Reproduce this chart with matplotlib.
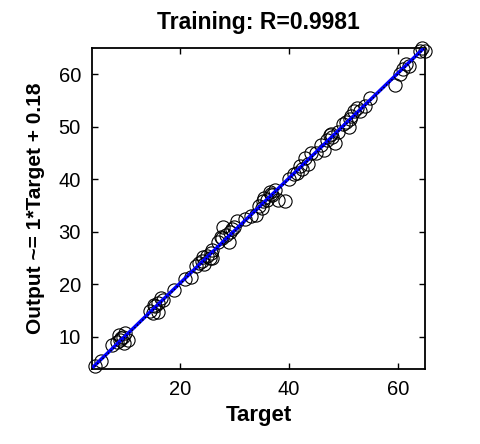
import matplotlib
matplotlib.use("Agg")
import matplotlib.pyplot as plt
import numpy as np

plt.rcParams['font.family'] = ['Liberation Sans', 'DejaVu Sans']

target = [4.5, 5.5, 7.5, 8.8, 9.0, 9.5, 9.8, 10.0, 10.5, 8.5, 9.3,
          14.5, 15.0, 15.5, 16.0, 16.5, 16.0, 17.0, 15.2,
          19.0, 21.0, 22.0,
          23.0, 23.5, 24.0, 24.5, 25.0, 25.5, 26.0, 26.0, 24.2, 25.8,
          27.0, 27.5, 28.0, 28.5, 29.0, 29.5, 30.0, 30.5, 27.8, 29.2,
          32.0, 33.0, 34.0, 34.5, 35.0, 35.5, 36.0, 36.5, 37.0, 37.5, 38.0, 39.3,
          35.2, 36.8,
          40.0, 41.0, 42.0, 42.5, 43.0, 43.5, 44.0, 41.5,
          45.0, 46.0, 46.5, 47.0, 47.5, 48.0, 48.5, 49.0, 47.8,
          50.0, 50.5, 51.0, 51.5, 52.0, 52.5, 53.0, 54.0, 55.0, 51.2,
          59.5, 60.5, 61.0, 61.5, 62.0,
          64.0, 64.5, 65.0]
output = [4.5, 5.5, 8.5, 10.3, 9.5, 10.0, 8.8, 10.8, 9.5, 9.0, 9.8,
          15.0, 14.5, 15.8, 16.5, 17.5, 14.8, 17.0, 16.0,
          19.0, 21.0, 21.5,
          23.5, 24.0, 24.5, 23.8, 25.5, 25.0, 26.5, 25.0, 25.2, 26.0,
          28.0, 29.0, 31.0, 29.5, 28.0, 30.5, 31.0, 32.0, 28.8, 30.0,
          32.5, 33.0, 33.2, 35.0, 34.5, 36.5, 36.0, 37.5, 37.0, 38.0, 36.0, 35.8,
          35.8, 37.2,
          40.0, 41.0, 42.5, 42.0, 44.0, 43.0, 45.0, 41.2,
          45.0, 46.5, 45.5, 47.5, 48.5, 48.0, 47.0, 49.0, 48.6,
          50.5, 51.0, 50.0, 52.0, 53.0, 53.5, 53.0, 54.0, 55.5, 51.5,
          58.0, 60.0, 61.0, 62.0, 61.5,
          64.5, 65.0, 64.5]
fit_slope = 1.0
fit_intercept = 0.18
lims = [3.9, 65.0]
xticks = [20, 40, 60]
yticks = [10, 20, 30, 40, 50, 60]

fig = plt.figure(figsize=(4.8, 4.44), dpi=100)
ax = fig.add_axes([0.1917, 0.1689, 0.6937, 0.7230])

ax.plot(target, output, 'o', mfc='none', mec='black', ms=9.5, mew=0.8,
        zorder=2, clip_on=False)
xl = np.array(lims)
ax.plot(xl, fit_slope * xl + fit_intercept, color='#0000ff', lw=2.5, zorder=3)
ax.plot(xl, xl, ':', color='black', lw=1, zorder=4)

ax.set_xlim(lims)
ax.set_ylim(lims)
ax.set_xticks(xticks)
ax.set_yticks(yticks)
ax.tick_params(direction='in', top=True, right=True, length=4, width=1,
               labelsize=14.5, pad=8)
for s in ax.spines.values():
    s.set_linewidth(1.3)
ax.set_title('Training: R=0.9981', fontsize=16.5, fontweight='bold', pad=14)
ax.set_xlabel('Target', fontsize=16, fontweight='bold', labelpad=4)
ax.set_ylabel('Output ~= 1*Target + 0.18', fontsize=15, fontweight='bold', labelpad=10)

fig.savefig('out.png', dpi=100, facecolor='white')
